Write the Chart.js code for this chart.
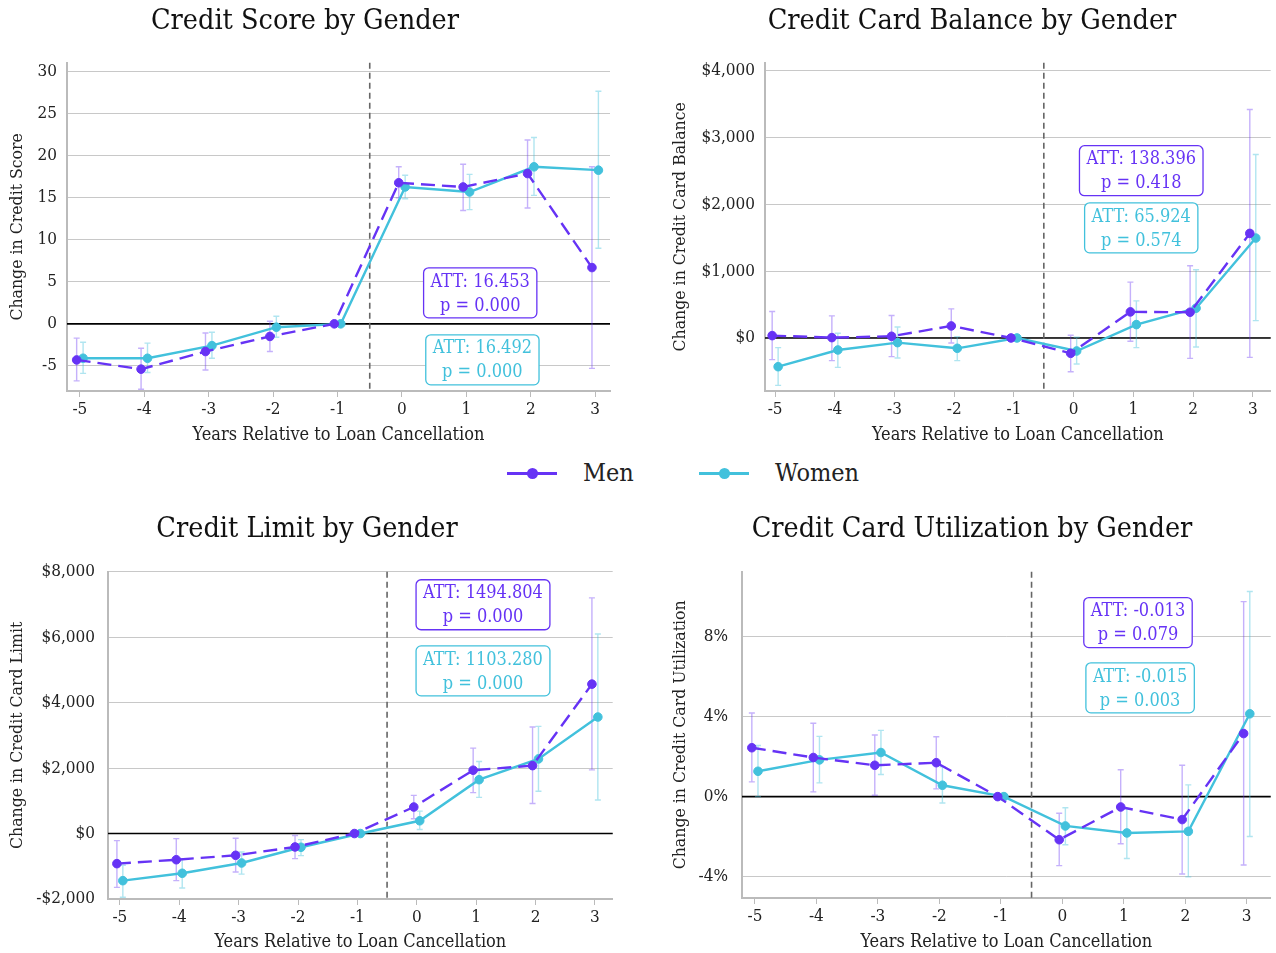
<!DOCTYPE html>
<html>
<head>
<meta charset="utf-8">
<title>Loan cancellation event study by gender</title>
<script src="https://cdn.jsdelivr.net/npm/chart.js@4.4.1/dist/chart.umd.min.js"></script>
<style>
  body { margin: 0; background: #fff; width: 1276px; height: 953px; position: relative; overflow: hidden;
         font-family: "DejaVu Serif Condensed", "DejaVu Serif", serif; color: #222; }
  .panel { position: absolute; }
  .legend-item { position: absolute; top: 458px; height: 30px; display: flex; align-items: center; }
  .swatch { position: relative; width: 50px; height: 3px; }
  .swatch::after { content: ""; position: absolute; left: 20px; top: -4px; width: 11px; height: 11px;
                   border-radius: 50%; background: inherit; }
  .legend-text { position: absolute; top: 458px; line-height: 30px; font-size: 25px; }
</style>
</head>
<body>
<div class="panel" style="left:0;top:0;width:618px;height:450px"><canvas id="score"></canvas></div>
<div class="panel" style="left:668px;top:0;width:608px;height:450px"><canvas id="balance"></canvas></div>
<div class="panel" style="left:0;top:508px;width:618px;height:445px"><canvas id="limit"></canvas></div>
<div class="panel" style="left:668px;top:508px;width:608px;height:445px"><canvas id="util"></canvas></div>

<div class="legend-item" style="left:507px"><div class="swatch" style="background:#6633f5"></div></div>
<div class="legend-text" style="left:583px">Men</div>
<div class="legend-item" style="left:699px"><div class="swatch" style="background:#42c1dc"></div></div>
<div class="legend-text" style="left:775px">Women</div>

<script>
const years = [-5, -4, -3, -2, -1, 0, 1, 2, 3];
const groups = ['Men', 'Women'];

// credit score
const scoreMen     = [-4.3, -5.4, -3.3, -1.5, 0, 16.8, 16.3, 17.9, 6.7];
const scoreMenLo   = [-6.8, -7.8, -5.5, -3.3, null, 15.0, 13.5, 13.8, -5.3];
const scoreMenHi   = [-1.7, -2.9, -1.1, 0.3, null, 18.7, 19.0, 21.9, 18.7];
const scoreWomen   = [-4.1, -4.1, -2.6, -0.4, 0, 16.3, 15.7, 18.7, 18.3];
const scoreWomenLo = [-5.9, -5.8, -4.1, -1.6, null, 14.9, 13.6, 15.3, 9.0];
const scoreWomenHi = [-2.2, -2.3, -1.0, 0.9, null, 17.7, 17.8, 22.2, 27.7];
const scoreTicks   = [-5, 0, 5, 10, 15, 20, 25, 30];
const scoreAtt     = ['ATT: 16.453', 'ATT: 16.492'];
const scoreP       = ['p = 0.000', 'p = 0.000'];

// credit card balance
const balMen     = [35, 5, 25, 180, 0, -230, 390, 385, 1565];
const balMenLo   = [-325, -340, -280, -75, null, -505, -50, -305, -290];
const balMenHi   = [395, 330, 335, 435, null, 40, 835, 1080, 3420];
const balWomen   = [-430, -180, -70, -155, 0, -195, 200, 445, 1495];
const balWomenLo = [-710, -440, -300, -340, null, -390, -145, -135, 260];
const balWomenHi = [-145, 70, 165, 20, null, 10, 555, 1020, 2745];
const balTicks   = [0, 1000, 2000, 3000, 4000];
const balAtt     = ['ATT: 138.396', 'ATT: 65.924'];
const balP       = ['p = 0.418', 'p = 0.574'];

// credit limit
const limMen     = [-920, -800, -665, -410, 0, 810, 1935, 2075, 4565];
const limMenLo   = [-1645, -1440, -1175, -765, null, 450, 1250, 920, 1945];
const limMenHi   = [-215, -155, -145, -60, null, 1165, 2610, 3255, 7200];
const limWomen   = [-1440, -1215, -900, -420, 0, 390, 1645, 2280, 3560];
const limWomenLo = [-1945, -1665, -1240, -675, null, 125, 1105, 1290, 1025];
const limWomenHi = [-970, -775, -565, -185, null, 685, 2200, 3275, 6095];
const limTicks   = [-2000, 0, 2000, 4000, 6000, 8000];
const limAtt     = ['ATT: 1494.804', 'ATT: 1103.280'];
const limP       = ['p = 0.000', 'p = 0.000'];

// credit card utilization (share)
const utilMen     = [0.0245, 0.0196, 0.0157, 0.0170, 0, -0.0216, -0.0052, -0.0115, 0.0316];
const utilMenLo   = [0.0074, 0.0024, 0.0007, 0.0039, null, -0.0346, -0.0236, -0.0388, -0.0343];
const utilMenHi   = [0.0419, 0.0368, 0.0309, 0.0300, null, -0.0083, 0.0135, 0.0157, 0.0977];
const utilWomen   = [0.0127, 0.0184, 0.0221, 0.0057, 0, -0.0147, -0.0182, -0.0174, 0.0415];
const utilWomenLo = [0.0000, 0.0069, 0.0111, -0.0032, null, -0.0241, -0.0310, -0.0402, -0.0200];
const utilWomenHi = [0.0256, 0.0302, 0.0332, 0.0150, null, -0.0056, -0.0061, 0.0059, 0.1028];
const utilTicks   = [-0.04, 0, 0.04, 0.08];
const utilAtt     = ['ATT: -0.013', 'ATT: -0.015'];
const utilP       = ['p = 0.079', 'p = 0.003'];

const MEN = '#6633f5', WOMEN = '#42c1dc';
const MEN_BAR = 'rgba(102,51,245,0.38)', WOMEN_BAR = 'rgba(66,193,220,0.42)';
const FONT = '"DejaVu Serif Condensed", "DejaVu Serif", serif';

Chart.defaults.font.family = FONT;
Chart.defaults.color = '#222';

const dollars = v => (v < 0 ? '-$' : '$') + Math.abs(v).toLocaleString('en-US');
const percent = v => Math.round(v * 100) + '%';

// vertical treatment line and zero reference
const refLines = {
  id: 'refLines',
  beforeDatasetsDraw(chart) {
    const { ctx, chartArea: a, scales: { x, y } } = chart;
    ctx.save();
    const y0 = y.getPixelForValue(0);
    ctx.strokeStyle = '#000';
    ctx.lineWidth = 1.6;
    ctx.beginPath(); ctx.moveTo(a.left, y0); ctx.lineTo(a.right, y0); ctx.stroke();
    const xv = x.getPixelForValue(-0.5);
    ctx.strokeStyle = '#666';
    ctx.lineWidth = 1.6;
    ctx.setLineDash([6, 4]);
    ctx.beginPath(); ctx.moveTo(xv, a.top); ctx.lineTo(xv, a.bottom); ctx.stroke();
    ctx.restore();
  }
};

// confidence intervals with caps
const errorBars = {
  id: 'errorBars',
  beforeDatasetsDraw(chart) {
    const { ctx, scales: { x, y } } = chart;
    ctx.save();
    ctx.lineWidth = 1.4;
    chart.data.datasets.forEach(ds => {
      ctx.strokeStyle = ds.barColor;
      ds.data.forEach((p, i) => {
        if (ds.lo[i] == null) return;
        const px = x.getPixelForValue(p.x);
        const top = y.getPixelForValue(ds.hi[i]);
        const bot = y.getPixelForValue(ds.lo[i]);
        ctx.beginPath();
        ctx.moveTo(px, top); ctx.lineTo(px, bot);
        ctx.moveTo(px - 3, top); ctx.lineTo(px + 3, top);
        ctx.moveTo(px - 3, bot); ctx.lineTo(px + 3, bot);
        ctx.stroke();
      });
    });
    ctx.restore();
  }
};

// ATT summary boxes, placed as fractions of the plot area
function attBoxes(att, pv, spots) {
  return {
    id: 'attBoxes',
    afterDatasetsDraw(chart) {
      const { ctx, chartArea: a } = chart;
      ctx.save();
      ctx.font = '18px ' + FONT;
      ctx.textAlign = 'center';
      ctx.textBaseline = 'middle';
      [MEN, WOMEN].forEach((col, k) => {
        const cx = a.left + spots[k][0] * (a.right - a.left);
        const cy = a.top + spots[k][1] * (a.bottom - a.top);
        const w = Math.max(ctx.measureText(att[k]).width, ctx.measureText(pv[k]).width) + 14;
        const h = 50;
        ctx.beginPath();
        ctx.roundRect(cx - w / 2, cy - h / 2, w, h, 5);
        ctx.fillStyle = '#fff';
        ctx.fill();
        ctx.strokeStyle = col;
        ctx.lineWidth = 1.3;
        ctx.stroke();
        ctx.fillStyle = col;
        ctx.fillText(att[k], cx, cy - 11);
        ctx.fillText(pv[k], cx, cy + 13);
      });
      ctx.restore();
    }
  };
}

function panel(id, o) {
  const series = (vals, lo, hi, shift, color, bar, dash) => ({
    label: '',
    data: years.map((yr, i) => ({ x: yr + shift, y: vals[i] })),
    lo, hi, barColor: bar,
    borderColor: color,
    backgroundColor: color,
    pointBackgroundColor: color,
    pointBorderColor: color,
    pointRadius: 4.3,
    pointBorderWidth: 1,
    borderWidth: 2.4,
    borderDash: dash,
    tension: 0
  });
  const datasets = [
    series(o.men, o.menLo, o.menHi, -0.05, MEN, MEN_BAR, [14, 7]),
    series(o.women, o.womenLo, o.womenHi, 0.05, WOMEN, WOMEN_BAR, [])
  ];
  datasets[0].label = groups[0];
  datasets[1].label = groups[1];

  new Chart(document.getElementById(id), {
    type: 'line',
    data: { datasets },
    options: {
      responsive: true,
      maintainAspectRatio: false,
      animation: false,
      layout: { padding: { left: 0, right: o.padRight, top: 0, bottom: 0 } },
      plugins: {
        legend: { display: false },
        tooltip: { enabled: false },
        title: {
          display: true,
          text: o.title,
          color: '#111',
          font: { size: 28.5, weight: 'normal' },
          padding: { top: 4, bottom: o.titleGap }
        }
      },
      scales: {
        x: {
          type: 'linear',
          min: o.xMin, max: o.xMax,
          afterBuildTicks: s => { s.ticks = years.map(v => ({ value: v })); },
          afterFit: s => { s.height = o.xHeight; },
          ticks: { font: { size: 17 }, padding: 2, callback: v => v },
          grid: { drawOnChartArea: false, tickLength: 6, color: '#bbb', lineWidth: 1 },
          border: { color: '#bbb', width: 2 },
          title: { display: true, text: 'Years Relative to Loan Cancellation',
                   font: { size: 18 }, padding: { top: 2, bottom: o.xTitlePad } }
        },
        y: {
          min: o.yMin, max: o.yMax,
          afterBuildTicks: s => { s.ticks = o.ticks.map(v => ({ value: v })); },
          afterFit: s => { s.width = o.yWidth; },
          ticks: { font: { size: 17 }, padding: o.tickPad, callback: o.fmt },
          grid: { drawTicks: false, color: '#c8c8c8', lineWidth: 1 },
          border: { color: '#bbb', width: 2 },
          title: { display: true, text: o.yLabel, font: { size: 17.5 }, padding: { top: o.yTitlePad, bottom: 0 } }
        }
      }
    },
    plugins: [refLines, errorBars, attBoxes(o.att, o.p, o.spots)]
  });
}

panel('score', {
  title: 'Credit Score by Gender', yLabel: 'Change in Credit Score',
  men: scoreMen, menLo: scoreMenLo, menHi: scoreMenHi,
  women: scoreWomen, womenLo: scoreWomenLo, womenHi: scoreWomenHi,
  ticks: scoreTicks, fmt: v => v, att: scoreAtt, p: scoreP,
  spots: [[0.761, 0.701], [0.765, 0.905]],
  xMin: -5.2, xMax: 3.23, yMin: -8.0, yMax: 31.1,
  yWidth: 67, xHeight: 59, padRight: 8, titleGap: 24.5, yTitlePad: 7, tickPad: 10, xTitlePad: 4
});

panel('balance', {
  title: 'Credit Card Balance by Gender', yLabel: 'Change in Credit Card Balance',
  men: balMen, menLo: balMenLo, menHi: balMenHi,
  women: balWomen, womenLo: balWomenLo, womenHi: balWomenHi,
  ticks: balTicks, fmt: dollars, att: balAtt, p: balP,
  spots: [[0.744, 0.329], [0.744, 0.503]],
  xMin: -5.17, xMax: 3.3, yMin: -794, yMax: 4120,
  yWidth: 97, xHeight: 59, padRight: 0, titleGap: 24.5, yTitlePad: 2, tickPad: 10, xTitlePad: 4
});

panel('limit', {
  title: 'Credit Limit by Gender', yLabel: 'Change in Credit Card Limit',
  men: limMen, menLo: limMenLo, menHi: limMenHi,
  women: limWomen, womenLo: limWomenLo, womenHi: limWomenHi,
  ticks: limTicks, fmt: dollars, att: limAtt, p: limP,
  spots: [[0.743, 0.101], [0.743, 0.303]],
  xMin: -5.2, xMax: 3.3, yMin: -2000, yMax: 8000,
  yWidth: 108, xHeight: 54, padRight: 4, titleGap: 25.5, yTitlePad: 7, tickPad: 13, xTitlePad: 0
});

panel('util', {
  title: 'Credit Card Utilization by Gender', yLabel: 'Change in Credit Card Utilization',
  men: utilMen, menLo: utilMenLo, menHi: utilMenHi,
  women: utilWomen, womenLo: utilWomenLo, womenHi: utilWomenHi,
  ticks: utilTicks, fmt: percent, att: utilAtt, p: utilP,
  spots: [[0.749, 0.156], [0.753, 0.356]],
  xMin: -5.21, xMax: 3.39, yMin: -0.0508, yMax: 0.1127,
  yWidth: 74, xHeight: 55, padRight: 0, titleGap: 25.5, yTitlePad: 2, tickPad: 14, xTitlePad: 0
});
</script>
</body>
</html>
